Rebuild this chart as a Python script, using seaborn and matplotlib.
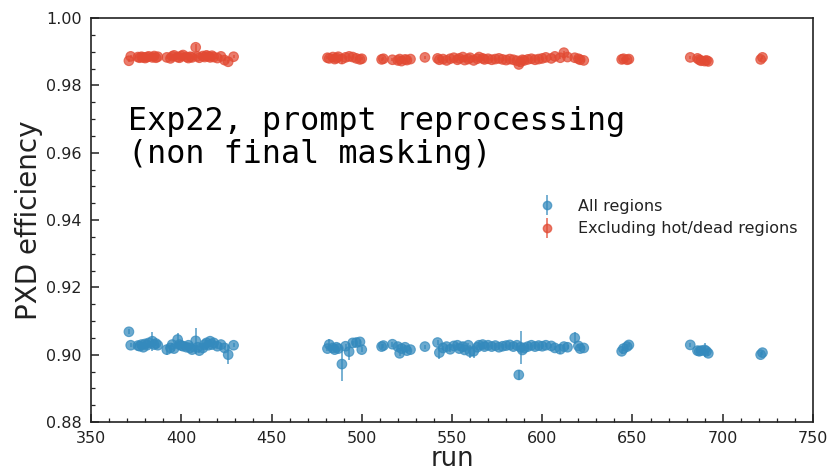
import numpy as np
import pandas as pd
import matplotlib
matplotlib.use("Agg")
import matplotlib.pyplot as plt
from matplotlib.lines import Line2D
from matplotlib.ticker import MultipleLocator
import seaborn as sns

# ---------------- data ----------------
runs_a = [371, 372, 376, 377, 378, 379, 380, 381, 382, 384,
          385, 386, 387, 392, 394, 395, 396, 398, 399, 400,
          401, 403, 404, 405, 406, 408, 409, 410, 412, 413,
          414, 415, 416, 417, 418, 420, 422, 424, 426, 429]
all_a = [0.9068, 0.9028, 0.9027, 0.9025, 0.9030, 0.9022, 0.9032, 0.9028, 0.9035, 0.9040,
         0.9030, 0.9033, 0.9028, 0.9015, 0.9020, 0.9030, 0.9018, 0.9045, 0.9030, 0.9027,
         0.9025, 0.9022, 0.9028, 0.9020, 0.9015, 0.9041, 0.9022, 0.9012, 0.9020, 0.9030,
         0.9035, 0.9028, 0.9040, 0.9030, 0.9035, 0.9025, 0.9030, 0.9020, 0.9000, 0.9028]
all_err_a = [0.0008, 0.0006, 0.0006, 0.0006, 0.0007, 0.0006, 0.0007, 0.0006, 0.0008, 0.0028,
             0.0007, 0.0006, 0.0007, 0.0015, 0.0007, 0.0006, 0.0007, 0.0020, 0.0006, 0.0007,
             0.0006, 0.0007, 0.0006, 0.0007, 0.0006, 0.0038, 0.0007, 0.0006, 0.0007, 0.0006,
             0.0007, 0.0006, 0.0008, 0.0007, 0.0006, 0.0007, 0.0006, 0.0007, 0.0028, 0.0006]
excl_a = [0.9873, 0.9886, 0.9884, 0.9882, 0.9885, 0.9883, 0.9881, 0.9884, 0.9886, 0.9883,
          0.9887, 0.9882, 0.9885, 0.9883, 0.9880, 0.9886, 0.9889, 0.9884, 0.9882, 0.9887,
          0.9890, 0.9884, 0.9881, 0.9885, 0.9883, 0.9913, 0.9886, 0.9882, 0.9887, 0.9884,
          0.9889, 0.9886, 0.9883, 0.9888, 0.9884, 0.9881, 0.9886, 0.9875, 0.9870, 0.9885]
excl_err_a = [0.0005, 0.0004, 0.0004, 0.0004, 0.0005, 0.0004, 0.0004, 0.0005, 0.0004, 0.0005,
              0.0004, 0.0004, 0.0005, 0.0004, 0.0005, 0.0004, 0.0004, 0.0005, 0.0004, 0.0004,
              0.0005, 0.0004, 0.0004, 0.0005, 0.0004, 0.0010, 0.0004, 0.0005, 0.0004, 0.0004,
              0.0005, 0.0004, 0.0004, 0.0005, 0.0004, 0.0004, 0.0005, 0.0004, 0.0005, 0.0004]

runs_b = [481, 482, 484, 485, 486, 487, 489, 491, 493, 495, 497, 499, 500]
all_b = [0.9018, 0.9030, 0.9020, 0.9015, 0.9022, 0.9018, 0.8972, 0.9025, 0.9009, 0.9035,
         0.9036, 0.9038, 0.9015]
all_err_b = [0.0007, 0.0018, 0.0007, 0.0006, 0.0007, 0.0006, 0.0050, 0.0007, 0.0025, 0.0007,
             0.0013, 0.0007, 0.0007]
excl_b = [0.9882, 0.9880, 0.9884, 0.9878, 0.9881, 0.9885, 0.9878, 0.9883, 0.9886, 0.9884,
          0.9880, 0.9877, 0.9879]
excl_err_b = [0.0005, 0.0004, 0.0004, 0.0005, 0.0004, 0.0004, 0.0015, 0.0004, 0.0005, 0.0004,
              0.0004, 0.0005, 0.0004]

runs_c = [511, 512, 517, 520, 521, 522, 524, 525, 527, 535,
          542, 543, 545, 547, 549, 551, 553, 554, 556, 557,
          559, 560, 562, 564, 565, 567, 568, 570, 572, 574,
          576, 578, 580, 582, 584, 586, 587, 588, 589, 590,
          592, 594, 596, 598, 600, 602, 605, 607, 610, 612,
          614, 618, 620, 621, 623]
all_c = [0.9024, 0.9027, 0.9031, 0.9024, 0.9004, 0.9018, 0.9022, 0.9012, 0.9015, 0.9024,
         0.9036, 0.9006, 0.9020, 0.9024, 0.9016, 0.9026, 0.9028, 0.9018, 0.9024, 0.9014,
         0.9028, 0.9009, 0.9010, 0.9022, 0.9028, 0.9030, 0.9024, 0.9028, 0.9024, 0.9027,
         0.9022, 0.9025, 0.9027, 0.9029, 0.9024, 0.9028, 0.8940, 0.9022, 0.9014, 0.9020,
         0.9024, 0.9028, 0.9024, 0.9027, 0.9025, 0.9028, 0.9026, 0.9020, 0.9016, 0.9024,
         0.9022, 0.9050, 0.9026, 0.9018, 0.9020]
all_err_c = [0.0007, 0.0006, 0.0007, 0.0006, 0.0007, 0.0006, 0.0007, 0.0006, 0.0007, 0.0006,
             0.0007, 0.0018, 0.0007, 0.0006, 0.0007, 0.0006, 0.0007, 0.0006, 0.0015, 0.0007,
             0.0006, 0.0020, 0.0020, 0.0007, 0.0006, 0.0007, 0.0006, 0.0007, 0.0006, 0.0007,
             0.0006, 0.0007, 0.0006, 0.0007, 0.0006, 0.0007, 0.0015, 0.0049, 0.0007, 0.0006,
             0.0007, 0.0006, 0.0007, 0.0006, 0.0007, 0.0006, 0.0007, 0.0006, 0.0015, 0.0007,
             0.0006, 0.0018, 0.0007, 0.0006, 0.0007]
excl_c = [0.9877, 0.9879, 0.9876, 0.9874, 0.9878, 0.9872, 0.9877, 0.9875, 0.9878, 0.9883,
          0.9880, 0.9876, 0.9878, 0.9874, 0.9879, 0.9882, 0.9876, 0.9880, 0.9884, 0.9875,
          0.9878, 0.9882, 0.9874, 0.9879, 0.9884, 0.9880, 0.9877, 0.9879, 0.9876, 0.9878,
          0.9880, 0.9877, 0.9875, 0.9878, 0.9876, 0.9873, 0.9862, 0.9870, 0.9876, 0.9874,
          0.9877, 0.9879, 0.9876, 0.9878, 0.9880, 0.9883, 0.9880, 0.9886, 0.9882, 0.9897,
          0.9884, 0.9882, 0.9879, 0.9876, 0.9874]
excl_err_c = [0.0004, 0.0005, 0.0004, 0.0004, 0.0005, 0.0004, 0.0004, 0.0005, 0.0004, 0.0004,
              0.0005, 0.0004, 0.0004, 0.0005, 0.0004, 0.0004, 0.0005, 0.0004, 0.0004, 0.0005,
              0.0004, 0.0004, 0.0005, 0.0004, 0.0004, 0.0005, 0.0004, 0.0004, 0.0005, 0.0004,
              0.0004, 0.0005, 0.0004, 0.0004, 0.0005, 0.0004, 0.0008, 0.0005, 0.0004, 0.0004,
              0.0005, 0.0004, 0.0004, 0.0005, 0.0004, 0.0004, 0.0005, 0.0004, 0.0004, 0.0006,
              0.0004, 0.0005, 0.0004, 0.0004, 0.0005]

runs_d = [644, 645, 647, 648]
all_d = [0.9010, 0.9018, 0.9024, 0.9029]
all_err_d = [0.0007, 0.0006, 0.0007, 0.0006]
excl_d = [0.9877, 0.9879, 0.9876, 0.9878]
excl_err_d = [0.0004, 0.0005, 0.0004, 0.0004]

runs_e = [682, 686, 687, 688, 690, 691, 692]
all_e = [0.9029, 0.9012, 0.9010, 0.9012, 0.9014, 0.9010, 0.9004]
all_err_e = [0.0006, 0.0007, 0.0006, 0.0007, 0.0020, 0.0006, 0.0007]
excl_e = [0.9883, 0.9880, 0.9876, 0.9873, 0.9872, 0.9874, 0.9871]
excl_err_e = [0.0004, 0.0005, 0.0004, 0.0004, 0.0005, 0.0004, 0.0004]

runs_f = [721, 722]
all_f = [0.9000, 0.9006]
all_err_f = [0.0007, 0.0006]
excl_f = [0.9877, 0.9883]
excl_err_f = [0.0005, 0.0004]

series_labels = ["All regions", "Excluding hot/dead regions"]
series_colors = ["#348ABD", "#E24A33"]
annotation = "Exp22, prompt reprocessing\n(non final masking)"
x_label = "run"
y_label = "PXD efficiency"
x_ticks = [350, 400, 450, 500, 550, 600, 650, 700, 750]
y_ticks = [0.88, 0.90, 0.92, 0.94, 0.96, 0.98, 1.00]

# ---------------- assemble ----------------
runs = runs_a + runs_b + runs_c + runs_d + runs_e + runs_f
eff_all = all_a + all_b + all_c + all_d + all_e + all_f
err_all = all_err_a + all_err_b + all_err_c + all_err_d + all_err_e + all_err_f
eff_excl = excl_a + excl_b + excl_c + excl_d + excl_e + excl_f
err_excl = excl_err_a + excl_err_b + excl_err_c + excl_err_d + excl_err_e + excl_err_f

df = pd.concat([
    pd.DataFrame({"run": runs, "efficiency": eff_all, "err": err_all,
                  "series": series_labels[0]}),
    pd.DataFrame({"run": runs, "efficiency": eff_excl, "err": err_excl,
                  "series": series_labels[1]}),
], ignore_index=True)

# ---------------- style ----------------
sns.set_style("white")
plt.rcParams.update({
    "font.family": ["DejaVu Sans"],
    "axes.edgecolor": "#222222",
    "axes.linewidth": 1.2,
    "xtick.direction": "in",
    "ytick.direction": "in",
})

fig = plt.figure(figsize=(8.28, 4.75), dpi=100)
ax = fig.add_axes([91 / 828, 1 - 422 / 475, 722 / 828, 404 / 475])

palette = dict(zip(series_labels, series_colors))
alpha = 0.72

for lab in series_labels:
    sub = df[df["series"] == lab]
    ax.errorbar(sub["run"], sub["efficiency"], yerr=sub["err"], fmt="none",
                ecolor=palette[lab], elinewidth=1.3, alpha=alpha, capsize=0, zorder=2)

sns.scatterplot(data=df, x="run", y="efficiency", hue="series", palette=palette,
                s=48, alpha=alpha, edgecolor="face", linewidth=0.8, legend=False,
                ax=ax, zorder=3)

ax.set_xlim(350, 750)
ax.set_ylim(0.88, 1.00)
ax.set_xticks(x_ticks)
ax.set_yticks(y_ticks)
ax.set_yticklabels([f"{v:.2f}" for v in y_ticks])
ax.xaxis.set_minor_locator(MultipleLocator(10))
ax.yaxis.set_minor_locator(MultipleLocator(0.005))
ax.tick_params(axis="both", which="major", direction="in", length=6, width=1.1,
               labelsize=11.5, pad=6.5, color="#222222", labelcolor="#222222",
               bottom=True, left=True, top=False, right=False)
ax.tick_params(axis="both", which="minor", direction="in", length=3, width=0.9,
               color="#222222", bottom=True, left=True, top=False, right=False)
for sp in ax.spines.values():
    sp.set_visible(True)

ax.set_xlabel(x_label, fontsize=18.5, labelpad=0, color="#222222")
ax.set_ylabel(y_label, fontsize=20, labelpad=2, color="#222222")

ax.text(0.051, 0.781, annotation, transform=ax.transAxes, va="top", ha="left",
        family="DejaVu Sans Mono", fontsize=22.9, color="black", linespacing=1.08)

handles = []
for c in series_colors:
    bar = Line2D([], [], ls="", marker="|", markersize=15, markeredgewidth=1.3,
                 color=c, alpha=alpha)
    dot = Line2D([], [], ls="", marker="o", markersize=6, color=c, alpha=alpha)
    handles.append((bar, dot))
ax.legend(handles, series_labels, loc="upper left",
          bbox_to_anchor=((521 - 91) / 722, (422 - 184.6) / 404),
          frameon=False, fontsize=11.5, handlelength=1.5, handletextpad=1.2,
          labelspacing=0.45, borderpad=0.4, labelcolor="#222222")

fig.savefig("out.png", dpi=100)
